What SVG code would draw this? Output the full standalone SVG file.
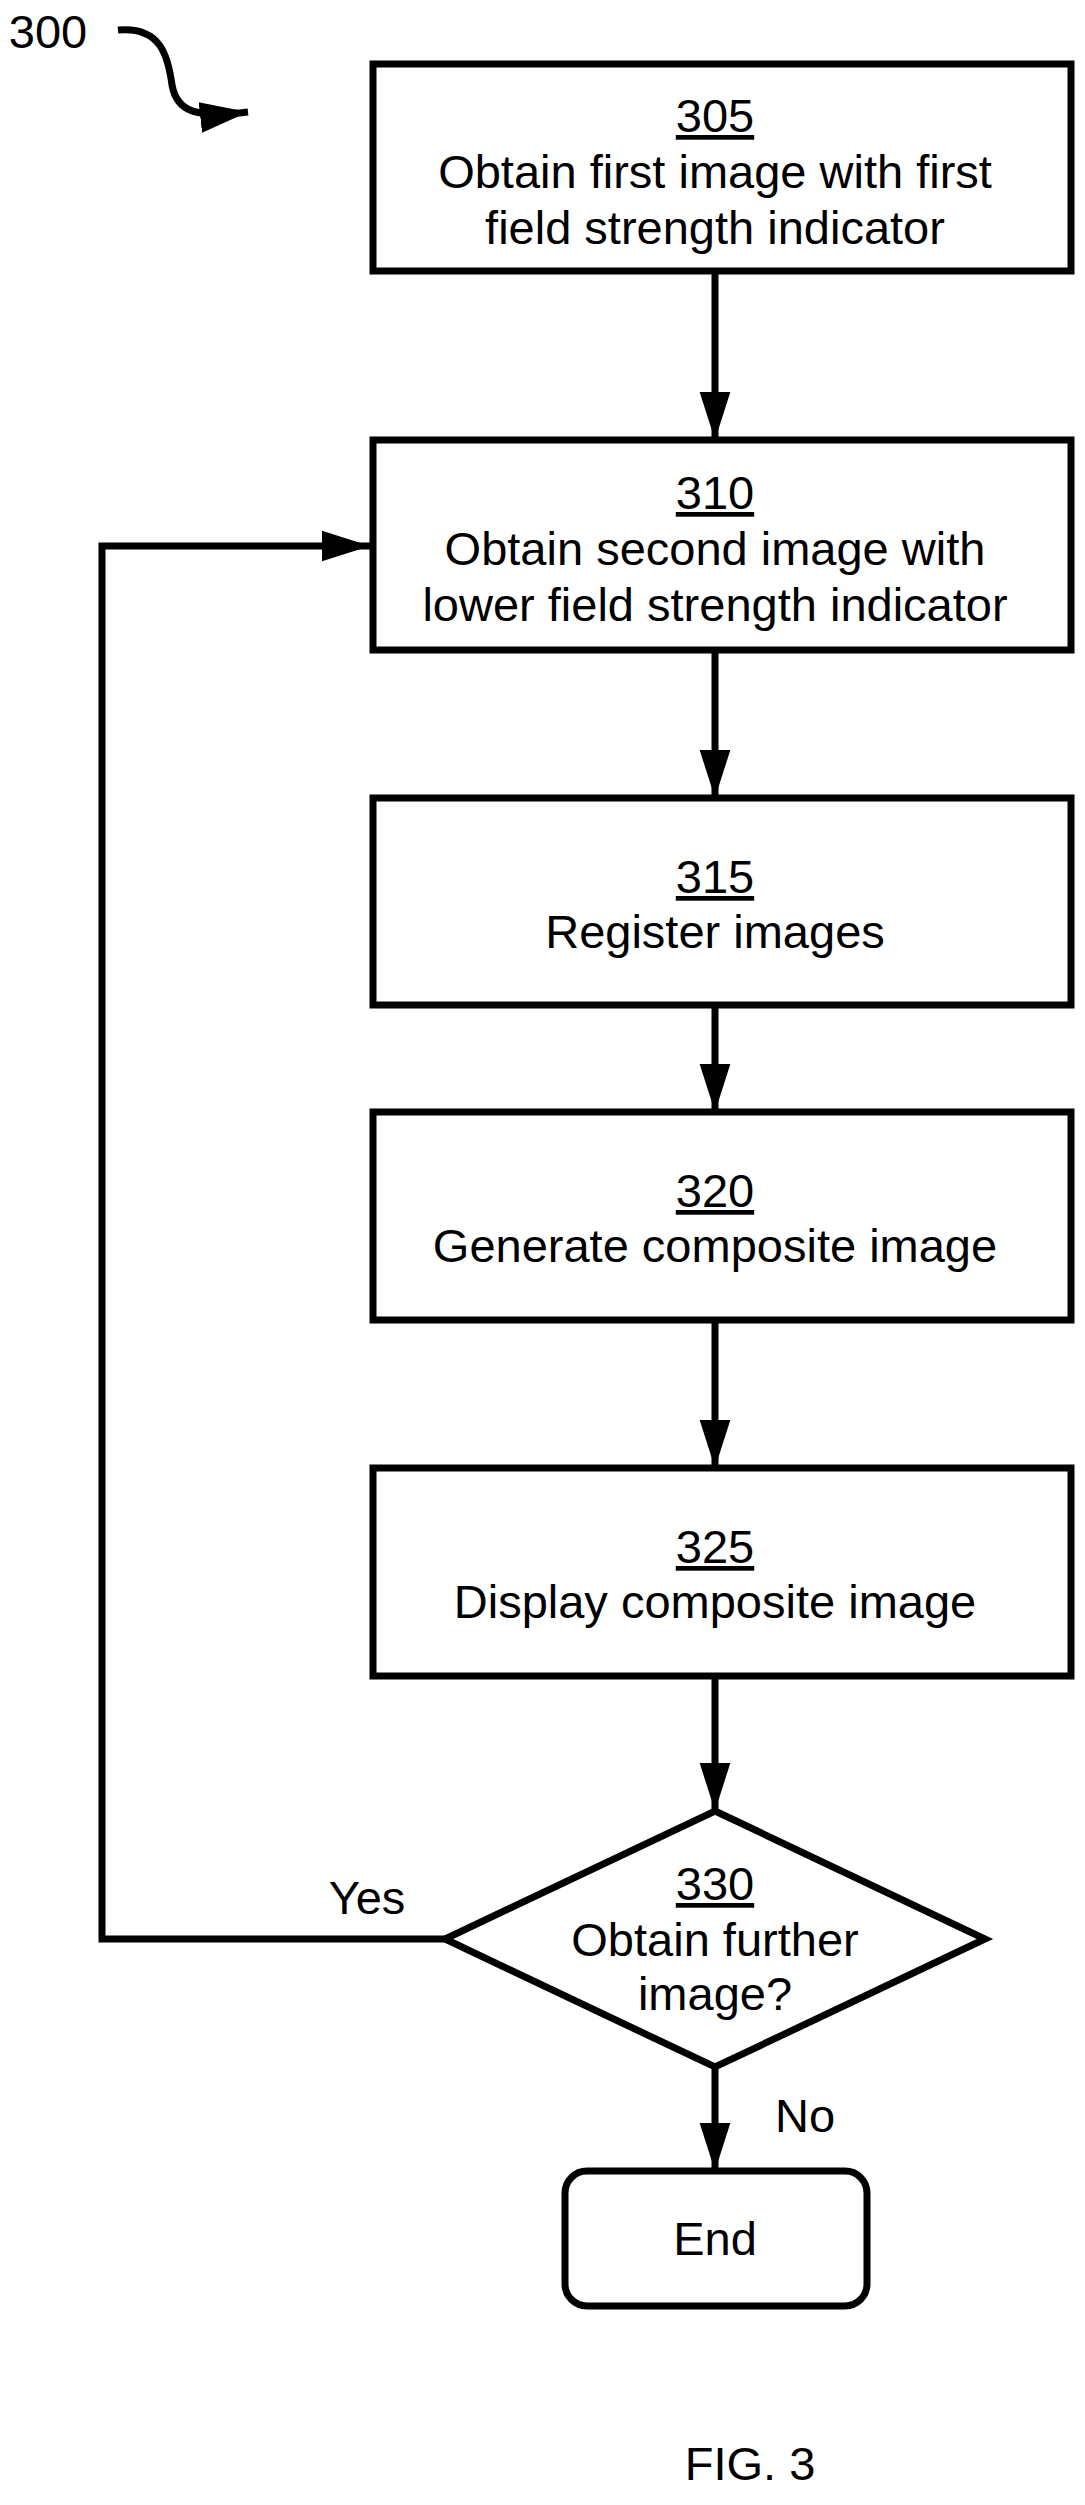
<svg xmlns="http://www.w3.org/2000/svg" width="1085" height="2505" viewBox="0 0 1085 2505">
<style>
.b{fill:#fff;stroke:#000;stroke-width:7}
.c{fill:none;stroke:#000;stroke-width:7}
text{font-family:"Liberation Sans",Arial,sans-serif;font-size:47px;fill:#000;text-anchor:middle}
.u{text-decoration:underline}
</style>
<defs>
<marker id="ah" viewBox="0 0 10 10" refX="10" refY="5" markerWidth="48" markerHeight="48" markerUnits="userSpaceOnUse" orient="auto"><path d="M0,1.8L10,5L0,8.2z" fill="#000"/></marker></defs>
<text x="48" y="48">300</text>
<g id="connectors">
<path class="c" d="M118,30C160,26 168,55 172,85C177,112 195,118 248,112" marker-end="url(#ah)"/>
<path class="c" d="M715,271V440" marker-end="url(#ah)"/>
<path class="c" d="M715,650V798" marker-end="url(#ah)"/>
<path class="c" d="M715,1005V1112" marker-end="url(#ah)"/>
<path class="c" d="M715,1320V1468" marker-end="url(#ah)"/>
<path class="c" d="M715,1676V1811" marker-end="url(#ah)"/>
<path class="c" d="M715,2067V2171" marker-end="url(#ah)"/>
<path class="c" d="M445,1939H102V546H370" marker-end="url(#ah)"/>
</g>
<g id="n305"><rect class="b" x="373" y="64" width="698" height="207"/><text x="715" y="132" class="u">305</text><text x="715" y="188">Obtain first image with first</text><text x="715" y="244">field strength indicator</text></g>
<g id="n310"><rect class="b" x="373" y="440" width="698" height="210"/><text x="715" y="509" class="u">310</text><text x="715" y="565">Obtain second image with</text><text x="715" y="621">lower field strength indicator</text></g>
<g id="n315"><rect class="b" x="373" y="798" width="698" height="207"/><text x="715" y="893" class="u">315</text><text x="715" y="948">Register images</text></g>
<g id="n320"><rect class="b" x="373" y="1112" width="698" height="208"/><text x="715" y="1207" class="u">320</text><text x="715" y="1262">Generate composite image</text></g>
<g id="n325"><rect class="b" x="373" y="1468" width="698" height="208"/><text x="715" y="1563" class="u">325</text><text x="715" y="1618">Display composite image</text></g>
<g id="n330"><path class="b" d="M715,1811L985,1939L715,2067L445,1939Z"/><text x="715" y="1900" class="u">330</text><text x="715" y="1956">Obtain further</text><text x="715" y="2010">image?</text></g>
<g id="end"><rect class="b" x="565" y="2171" width="302" height="135" rx="22"/><text x="715" y="2255">End</text></g>
<text x="367" y="1914">Yes</text>
<text x="805" y="2132">No</text>
<text x="750" y="2480">FIG. 3</text>
</svg>
